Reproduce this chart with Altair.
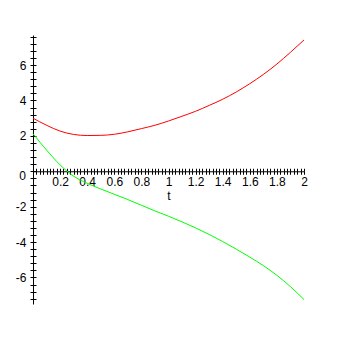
import altair as alt
import pandas as pd

# Data
t = [0.0, 0.1, 0.2, 0.3, 0.4, 0.5, 0.6, 0.7, 0.8, 0.9, 1.0,
     1.1, 1.2, 1.3, 1.4, 1.5, 1.6, 1.7, 1.8, 1.9, 2.0]
red = [3.0, 2.6, 2.27, 2.08, 2.02, 2.03, 2.09, 2.23, 2.41, 2.6, 2.84,
       3.11, 3.39, 3.72, 4.07, 4.48, 4.95, 5.47, 6.06, 6.72, 7.42]
green = [2.12, 1.2, 0.36, -0.28, -0.68, -1.0, -1.3, -1.6, -1.92, -2.24, -2.54,
         -2.86, -3.2, -3.57, -3.97, -4.4, -4.85, -5.33, -5.88, -6.52, -7.25]

x_ticks = [round(i * 0.025, 3) for i in range(1, 81)]
y_ticks = [round(-7.2 + 0.4 * i, 1) for i in range(0, 38)]
zero_label = ["0"]

W, H = 271, 269
Y_DOMAIN = [-7.5, 7.7]
y0_from_top = H * (Y_DOMAIN[1] / (Y_DOMAIN[1] - Y_DOMAIN[0]))
y0_from_bottom = H - y0_from_top

FONT = "Liberation Sans"

xs = alt.Scale(domain=[0, 2], nice=False, zero=False)
ys = alt.Scale(domain=Y_DOMAIN, nice=False, zero=False)

df_red = pd.DataFrame({"t": t, "v": red})
df_green = pd.DataFrame({"t": t, "v": green})
df_zero = pd.DataFrame({"t": [0.0], "v": [0.0], "label": zero_label})

x_axis_main = alt.Axis(
    orient="bottom", offset=-y0_from_bottom, values=x_ticks, format=".3~f",
    labelExpr="abs(datum.value*5 - round(datum.value*5)) < 0.001 ? datum.label : ''",
    tickSize=3, labelPadding=2, domain=True, title="t", titlePadding=3,
    labelFlush=False, labelOverlap=False,
)
y_axis_main = alt.Axis(
    orient="left", offset=0, values=y_ticks,
    labelExpr="(abs(datum.value/2 - round(datum.value/2)) < 0.001 && datum.value != 0) ? (round(datum.value) + '') : ''",
    tickSize=3, labelPadding=4, domain=True, title=None,
    labelFlush=False, labelOverlap=False,
)
x_axis_top = alt.Axis(
    orient="top", offset=-y0_from_top, values=x_ticks, labels=False,
    tickSize=3, domain=False, title=None,
)
y_axis_right = alt.Axis(
    orient="right", offset=-W, values=y_ticks, labels=False,
    tickSize=3, domain=False, title=None,
)

red_line = alt.Chart(df_red).mark_line(color="#ff0000", strokeWidth=1, interpolate="monotone").encode(
    x=alt.X("t:Q", scale=xs, axis=x_axis_main),
    y=alt.Y("v:Q", scale=ys, axis=y_axis_main),
)
green_line = alt.Chart(df_green).mark_line(color="#00ff00", strokeWidth=1, interpolate="monotone").encode(
    x=alt.X("t:Q", scale=xs, axis=x_axis_top),
    y=alt.Y("v:Q", scale=ys, axis=y_axis_right),
)
zero_text = alt.Chart(df_zero).mark_text(
    align="right", baseline="middle", dx=-7, dy=5, font=FONT, fontSize=12, color="black"
).encode(
    x=alt.X("t:Q", scale=xs, axis=None),
    y=alt.Y("v:Q", scale=ys, axis=None),
    text="label:N",
)

chart = alt.layer(red_line, green_line, zero_text).resolve_scale(
    x="shared", y="shared"
).resolve_axis(
    x="independent", y="independent"
).properties(
    width=W, height=H,
    autosize=alt.AutoSizeParams(type="none"),
    padding={"left": 33, "top": 35, "right": 34, "bottom": 34},
    background="white",
).configure_view(stroke=None).configure_axis(
    grid=False, labelFont=FONT, labelFontSize=12, labelColor="black",
    titleFont=FONT, titleFontSize=12, titleFontWeight="normal", titleColor="black",
    domainColor="black", tickColor="black", domainWidth=1, tickWidth=1,
)

chart.save("out.html", embed_options={"renderer": "svg", "actions": False})
